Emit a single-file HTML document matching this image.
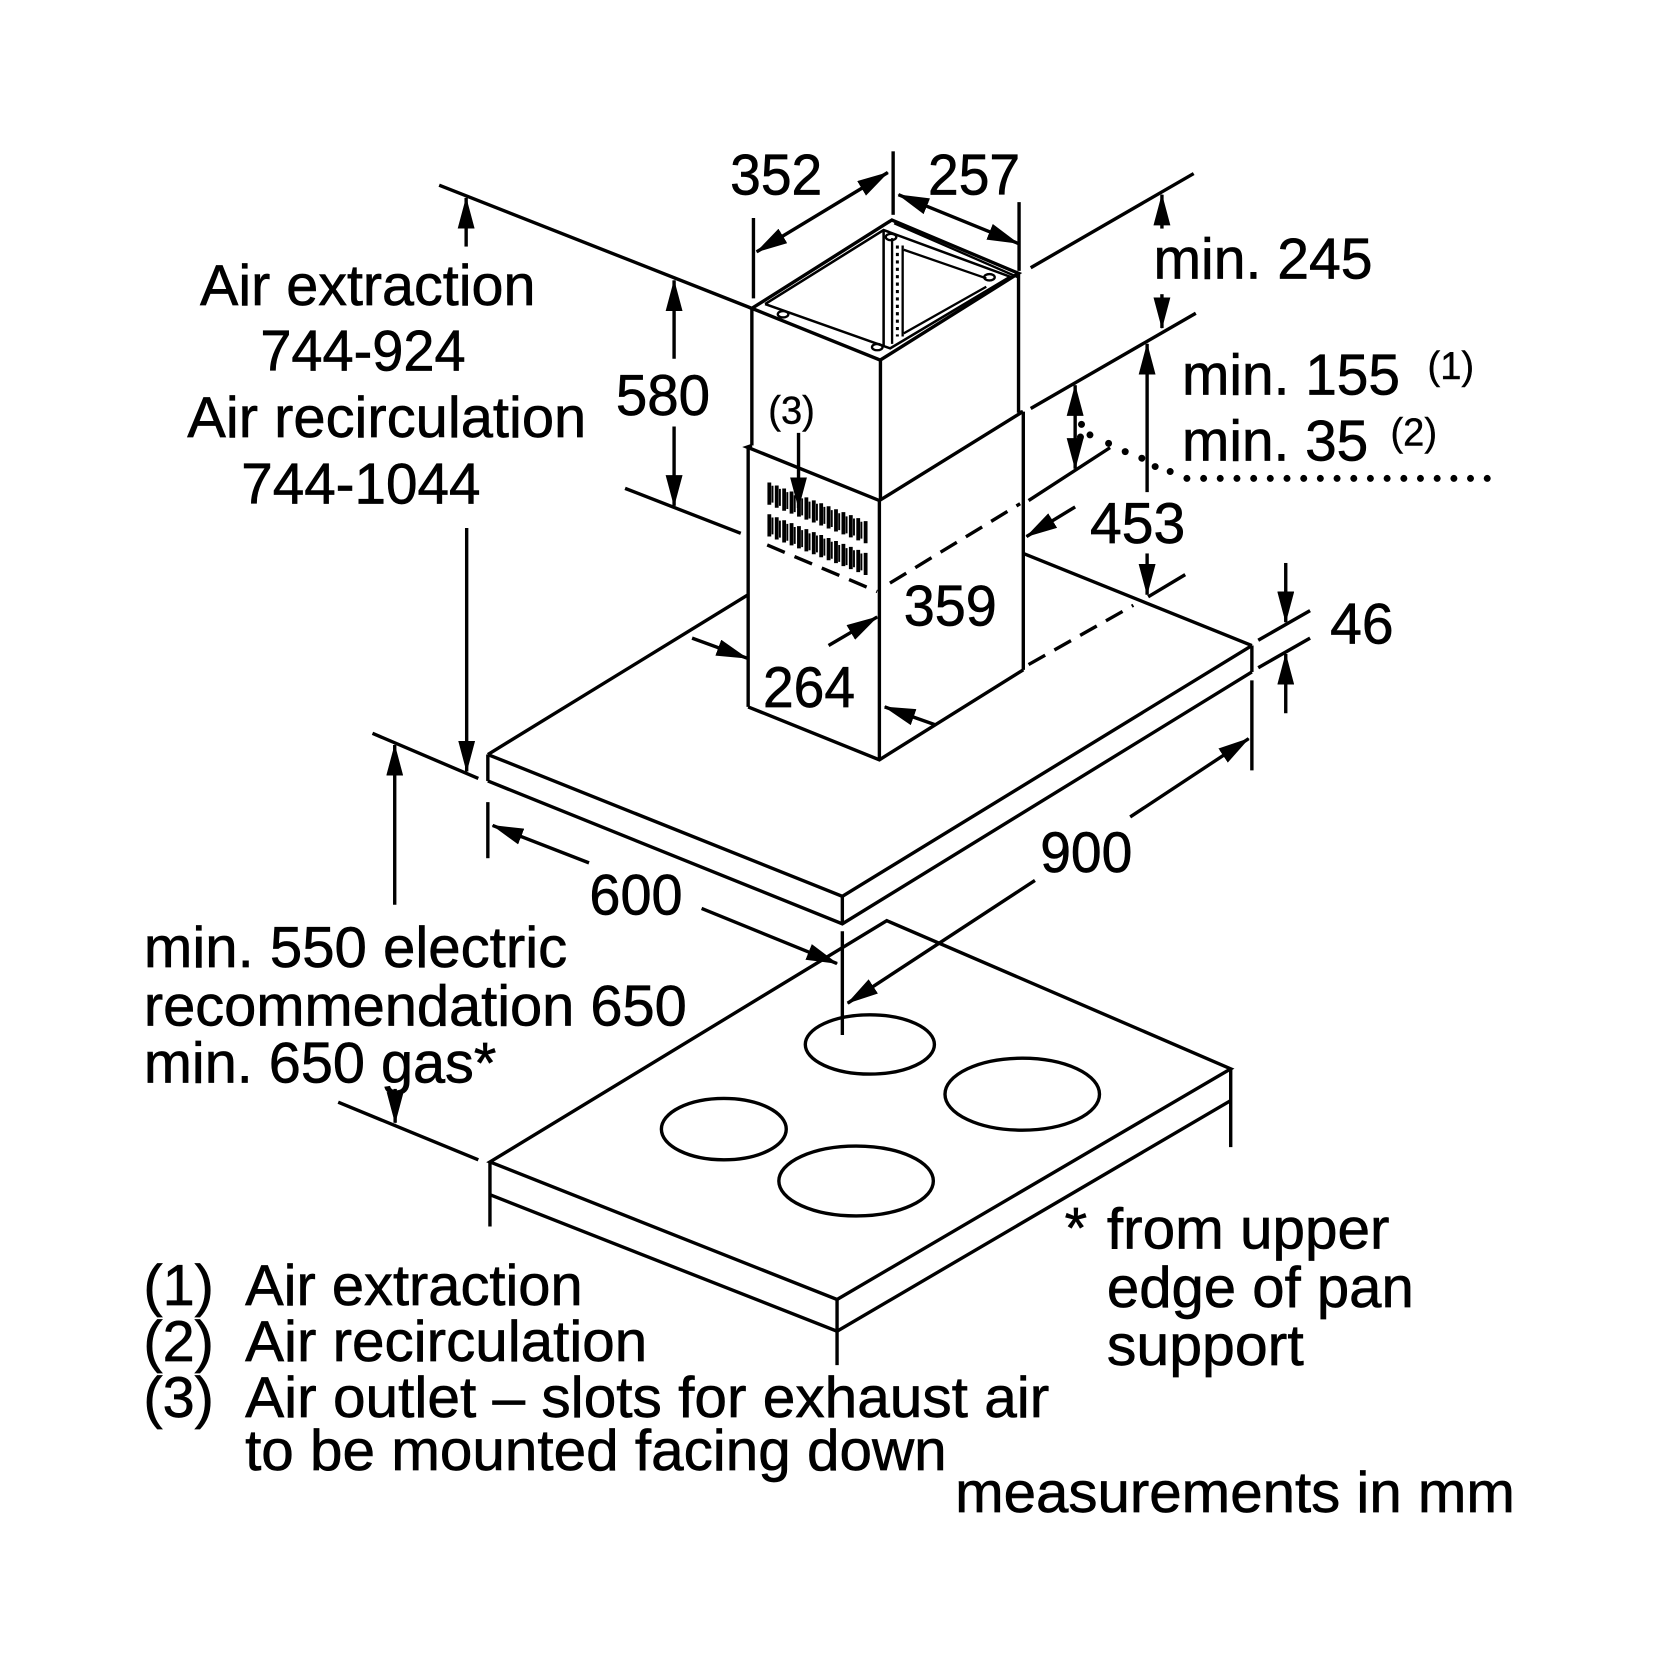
<!DOCTYPE html>
<html>
<head>
<meta charset="utf-8">
<style>
html,body{margin:0;padding:0;background:#fff;}
svg{display:block;}
</style>
</head>
<body>
<svg width="1654" height="1654" viewBox="0 0 1563 1563" xmlns="http://www.w3.org/2000/svg">
<defs>
<marker id="a" markerUnits="userSpaceOnUse" markerWidth="30" markerHeight="16" refX="29" refY="8" orient="auto-start-reverse">
<path d="M0,0 L30,8 L0,16 z" fill="#000"/>
</marker>
</defs>
<rect x="0" y="0" width="1563" height="1563" fill="#fff"/>

<g stroke="#000" stroke-width="3.2" fill="none" stroke-linejoin="miter">
<!-- ===== HOOD ===== -->
<polyline points="461,713 796,847 1183,610"/>
<polyline points="461,738 796,873 1183,635"/>
<line x1="461" y1="713" x2="461" y2="738"/>
<line x1="796" y1="847" x2="796" y2="873"/>
<line x1="1183" y1="610" x2="1183" y2="635"/>
<line x1="461" y1="713" x2="707" y2="562"/>
<line x1="967" y1="523" x2="1183" y2="610"/>
<line x1="972" y1="628" x2="1071" y2="572" stroke-dasharray="18 10"/>

<!-- ===== CHIMNEY upper ===== -->
<polygon points="710.5,291.4 842.8,207.9 962.5,258.3 831.8,340.3"/>
<line x1="845" y1="211" x2="962" y2="262" stroke-width="2.2"/>
<polyline points="723,287.3 835,217.4 954.6,261.5 841.2,329.2 723,287.3" stroke-width="2.4"/>
<line x1="835" y1="218" x2="835" y2="328" stroke-width="2.4"/>
<line x1="843" y1="225" x2="843" y2="325" stroke-width="2.2"/>
<line x1="853" y1="232" x2="853" y2="318" stroke-width="2.2"/>
<line x1="848" y1="232" x2="848" y2="318" stroke-width="2.8" stroke-dasharray="3 4"/>
<line x1="854" y1="236" x2="932" y2="263" stroke-width="2.2"/>
<line x1="854" y1="315" x2="932" y2="271" stroke-width="2.2"/>
<ellipse cx="740" cy="297" rx="5" ry="3" stroke-width="2.2"/>
<ellipse cx="842" cy="224" rx="5" ry="3" stroke-width="2.2"/>
<ellipse cx="935" cy="262" rx="5" ry="3" stroke-width="2.2"/>
<ellipse cx="829" cy="328" rx="5" ry="3" stroke-width="2.2"/>
<line x1="710.5" y1="291" x2="710.5" y2="421"/>
<line x1="832" y1="340" x2="832" y2="473"/>
<line x1="962.5" y1="258" x2="962.5" y2="390"/>

<!-- ===== CHIMNEY lower ===== -->
<polyline points="710.5,421 706,422.5 831,473 966.5,389 962.5,390"/>
<line x1="707" y1="423" x2="707" y2="668"/>
<line x1="831" y1="473" x2="831" y2="718"/>
<line x1="967" y1="389" x2="967" y2="633"/>
<polyline points="707,668 831,718 967,633"/>
<line x1="725" y1="515" x2="829" y2="559" stroke-dasharray="18 10"/>
<line x1="841" y1="551" x2="964" y2="476" stroke-dasharray="18 10"/>

<!-- slots -->
<path stroke-width="3.6" d="M727,456v21M734,458.8v21M741,461.6v21M748,464.4v21M755,467.2v21M762,470v21M769,472.8v21M776,475.6v21M783,478.4v21M790,481.2v21M797,484v21M804,486.8v21M811,489.6v21M818,492.4v21
M727,486v21M734,488.8v21M741,491.6v21M748,494.4v21M755,497.2v21M762,500v21M769,502.8v21M776,505.6v21M783,508.4v21M790,511.2v21M797,514v21M804,516.8v21M811,519.6v21M818,522.4v21"/>
<path stroke-width="1.8" d="M730,459v16M737,462v16M744,465v16M751,468v16M758,471v16M765,474v16M772,476v16M779,479v16M786,482v16M793,485v16M800,488v16M807,490v16M814,493v16
M730,489v16M737,492v16M744,495v16M751,498v16M758,501v16M765,504v16M772,506v16M779,509v16M786,512v16M793,515v16M800,518v16M807,520v16M814,523v16"/>

<!-- ===== HOB ===== -->
<polygon points="463,1098 838,870 1163,1010 791,1228"/>
<polyline points="463,1129 791,1258 1163,1040"/>
<line x1="463" y1="1098" x2="463" y2="1159"/>
<line x1="791" y1="1228" x2="791" y2="1290"/>
<line x1="1163" y1="1010" x2="1163" y2="1084"/>
<ellipse cx="822" cy="987" rx="61" ry="28"/>
<ellipse cx="966" cy="1034" rx="73" ry="34"/>
<ellipse cx="684" cy="1067" rx="59" ry="29"/>
<ellipse cx="809" cy="1116" rx="73" ry="33"/>

<!-- ===== EXTENSION LINES ===== -->
<line x1="415" y1="175" x2="710.5" y2="291.4"/>
<line x1="590.7" y1="461.5" x2="700" y2="504"/>
<line x1="712" y1="206" x2="712" y2="282"/>
<line x1="844" y1="143" x2="844" y2="203"/>
<line x1="963" y1="191" x2="963" y2="256"/>
<line x1="974" y1="253" x2="1128" y2="164"/>
<line x1="974" y1="386" x2="1130" y2="296"/>
<line x1="972" y1="473" x2="1049" y2="423"/>
<line x1="1085" y1="564" x2="1120" y2="543"/>
<line x1="1189" y1="605" x2="1238" y2="577"/>
<line x1="1189" y1="631" x2="1238" y2="603"/>
<line x1="1183" y1="643" x2="1183" y2="728"/>
<line x1="461" y1="758" x2="461" y2="811"/>
<line x1="796" y1="880" x2="796" y2="978"/>
<line x1="352" y1="693" x2="452" y2="735.6"/>
<line x1="319.6" y1="1041.6" x2="452" y2="1096"/>

<!-- ===== DIMENSION ARROWS ===== -->
<line x1="715" y1="238" x2="839" y2="163" marker-start="url(#a)" marker-end="url(#a)"/>
<line x1="849" y1="184" x2="962" y2="230" marker-start="url(#a)" marker-end="url(#a)"/>
<line x1="440.5" y1="233" x2="440.5" y2="187" marker-end="url(#a)"/>
<line x1="441" y1="499" x2="441" y2="729" marker-end="url(#a)"/>
<line x1="637" y1="339" x2="637" y2="265" marker-end="url(#a)"/>
<line x1="637" y1="403" x2="637" y2="478" marker-end="url(#a)"/>
<line x1="754.6" y1="409" x2="754.6" y2="480" marker-end="url(#a)"/>
<line x1="1098" y1="216" x2="1098" y2="184" marker-end="url(#a)"/>
<line x1="1098" y1="278" x2="1098" y2="310" marker-end="url(#a)"/>
<line x1="1084" y1="465" x2="1084" y2="325" marker-end="url(#a)"/>
<line x1="1016" y1="364" x2="1016" y2="443" marker-start="url(#a)" marker-end="url(#a)"/>
<line x1="1084" y1="523" x2="1084" y2="562" marker-end="url(#a)"/>
<line x1="1016" y1="479" x2="970" y2="507" marker-end="url(#a)"/>
<line x1="1215" y1="532" x2="1215" y2="588" marker-end="url(#a)"/>
<line x1="1215" y1="674" x2="1215" y2="618" marker-end="url(#a)"/>
<line x1="654" y1="603" x2="706" y2="622" marker-end="url(#a)"/>
<line x1="783" y1="610" x2="829" y2="583" marker-end="url(#a)"/>
<line x1="884" y1="685" x2="836" y2="668" marker-end="url(#a)"/>
<line x1="1068" y1="772" x2="1180" y2="698" marker-end="url(#a)"/>
<line x1="978" y1="832" x2="801" y2="948" marker-end="url(#a)"/>
<line x1="556.6" y1="815.4" x2="465.5" y2="780" marker-end="url(#a)"/>
<line x1="663" y1="858.5" x2="791" y2="910.5" marker-end="url(#a)"/>
<line x1="373" y1="855" x2="373" y2="704" marker-end="url(#a)"/>
<line x1="373.4" y1="1029" x2="373.4" y2="1061" marker-end="url(#a)"/>
</g>

<!-- dotted line -->
<g fill="#000">
<circle cx="1022" cy="401" r="3.3"/>
<circle cx="1021" cy="413" r="3.3"/>
<circle cx="1030" cy="411" r="3.3"/>
<circle cx="1047.6" cy="419" r="3.3"/>
<circle cx="1063.3" cy="426.8" r="3.3"/>
<circle cx="1079" cy="433" r="3.3"/>
<circle cx="1091.6" cy="440.9" r="3.3"/>
<circle cx="1105.8" cy="445.6" r="3.3"/>
<circle cx="1121.6" cy="452.1" r="3.3"/>
<circle cx="1137.4" cy="452.1" r="3.3"/>
<circle cx="1153.1" cy="452.1" r="3.3"/>
<circle cx="1168.9" cy="452.1" r="3.3"/>
<circle cx="1184.7" cy="452.1" r="3.3"/>
<circle cx="1200.4" cy="452.1" r="3.3"/>
<circle cx="1216.2" cy="452.1" r="3.3"/>
<circle cx="1232" cy="452.1" r="3.3"/>
<circle cx="1247.7" cy="452.1" r="3.3"/>
<circle cx="1263.5" cy="452.1" r="3.3"/>
<circle cx="1279.3" cy="452.1" r="3.3"/>
<circle cx="1295" cy="452.1" r="3.3"/>
<circle cx="1310.8" cy="452.1" r="3.3"/>
<circle cx="1326.6" cy="452.1" r="3.3"/>
<circle cx="1342.3" cy="452.1" r="3.3"/>
<circle cx="1358.1" cy="452.1" r="3.3"/>
<circle cx="1373.9" cy="452.1" r="3.3"/>
<circle cx="1389.6" cy="452.1" r="3.3"/>
<circle cx="1405.4" cy="452.1" r="3.3"/>
</g>

<!-- ===== TEXT ===== -->
<g font-family="'Liberation Sans', Arial, sans-serif" font-size="54.5" fill="#000" stroke="#000" stroke-width="0.6">
<text x="690" y="184" textLength="87" lengthAdjust="spacingAndGlyphs">352</text>
<text x="877" y="184" textLength="87" lengthAdjust="spacingAndGlyphs">257</text>
<text x="189" y="288" textLength="317" lengthAdjust="spacingAndGlyphs">Air extraction</text>
<text x="246" y="350" textLength="194" lengthAdjust="spacingAndGlyphs">744-924</text>
<text x="177" y="413" textLength="377" lengthAdjust="spacingAndGlyphs">Air recirculation</text>
<text x="228" y="476" textLength="226" lengthAdjust="spacingAndGlyphs">744-1044</text>
<text x="582" y="392" textLength="89" lengthAdjust="spacingAndGlyphs">580</text>
<text x="726" y="400" font-size="37" stroke-width="0.4" textLength="44" lengthAdjust="spacingAndGlyphs">(3)</text>
<text x="1090" y="263" textLength="207" lengthAdjust="spacingAndGlyphs">min. 245</text>
<text x="1117" y="373" textLength="206" lengthAdjust="spacingAndGlyphs">min. 155</text>
<text x="1349" y="358" font-size="37" stroke-width="0.4" textLength="44" lengthAdjust="spacingAndGlyphs">(1)</text>
<text x="1117" y="435" textLength="176" lengthAdjust="spacingAndGlyphs">min. 35</text>
<text x="1314" y="421" font-size="37" stroke-width="0.4" textLength="44" lengthAdjust="spacingAndGlyphs">(2)</text>
<text x="1030" y="513" textLength="90" lengthAdjust="spacingAndGlyphs">453</text>
<text x="854" y="591" textLength="88" lengthAdjust="spacingAndGlyphs">359</text>
<text x="721" y="668" textLength="87" lengthAdjust="spacingAndGlyphs">264</text>
<text x="1257" y="608" textLength="60" lengthAdjust="spacingAndGlyphs">46</text>
<text x="983" y="824" textLength="87" lengthAdjust="spacingAndGlyphs">900</text>
<text x="557" y="864" textLength="88" lengthAdjust="spacingAndGlyphs">600</text>
<text x="136" y="914" textLength="400" lengthAdjust="spacingAndGlyphs">min. 550 electric</text>
<text x="136" y="969" textLength="513" lengthAdjust="spacingAndGlyphs">recommendation 650</text>
<text x="136" y="1023" textLength="333" lengthAdjust="spacingAndGlyphs">min. 650 gas*</text>
<text x="1006" y="1179">*</text>
<text x="1046" y="1180" textLength="267" lengthAdjust="spacingAndGlyphs">from upper</text>
<text x="1046" y="1235" textLength="290" lengthAdjust="spacingAndGlyphs">edge of pan</text>
<text x="1046" y="1290" textLength="186" lengthAdjust="spacingAndGlyphs">support</text>
<text x="135.5" y="1233">(1)</text>
<text x="231.6" y="1233" textLength="319" lengthAdjust="spacingAndGlyphs">Air extraction</text>
<text x="135.5" y="1286">(2)</text>
<text x="231.6" y="1286" textLength="380" lengthAdjust="spacingAndGlyphs">Air recirculation</text>
<text x="135.5" y="1339">(3)</text>
<text x="231.6" y="1339" textLength="760" lengthAdjust="spacingAndGlyphs">Air outlet – slots for exhaust air</text>
<text x="231.6" y="1389" textLength="663" lengthAdjust="spacingAndGlyphs">to be mounted facing down</text>
<text x="902.6" y="1429" textLength="529" lengthAdjust="spacingAndGlyphs">measurements in mm</text>
</g>
</svg>
</body>
</html>
